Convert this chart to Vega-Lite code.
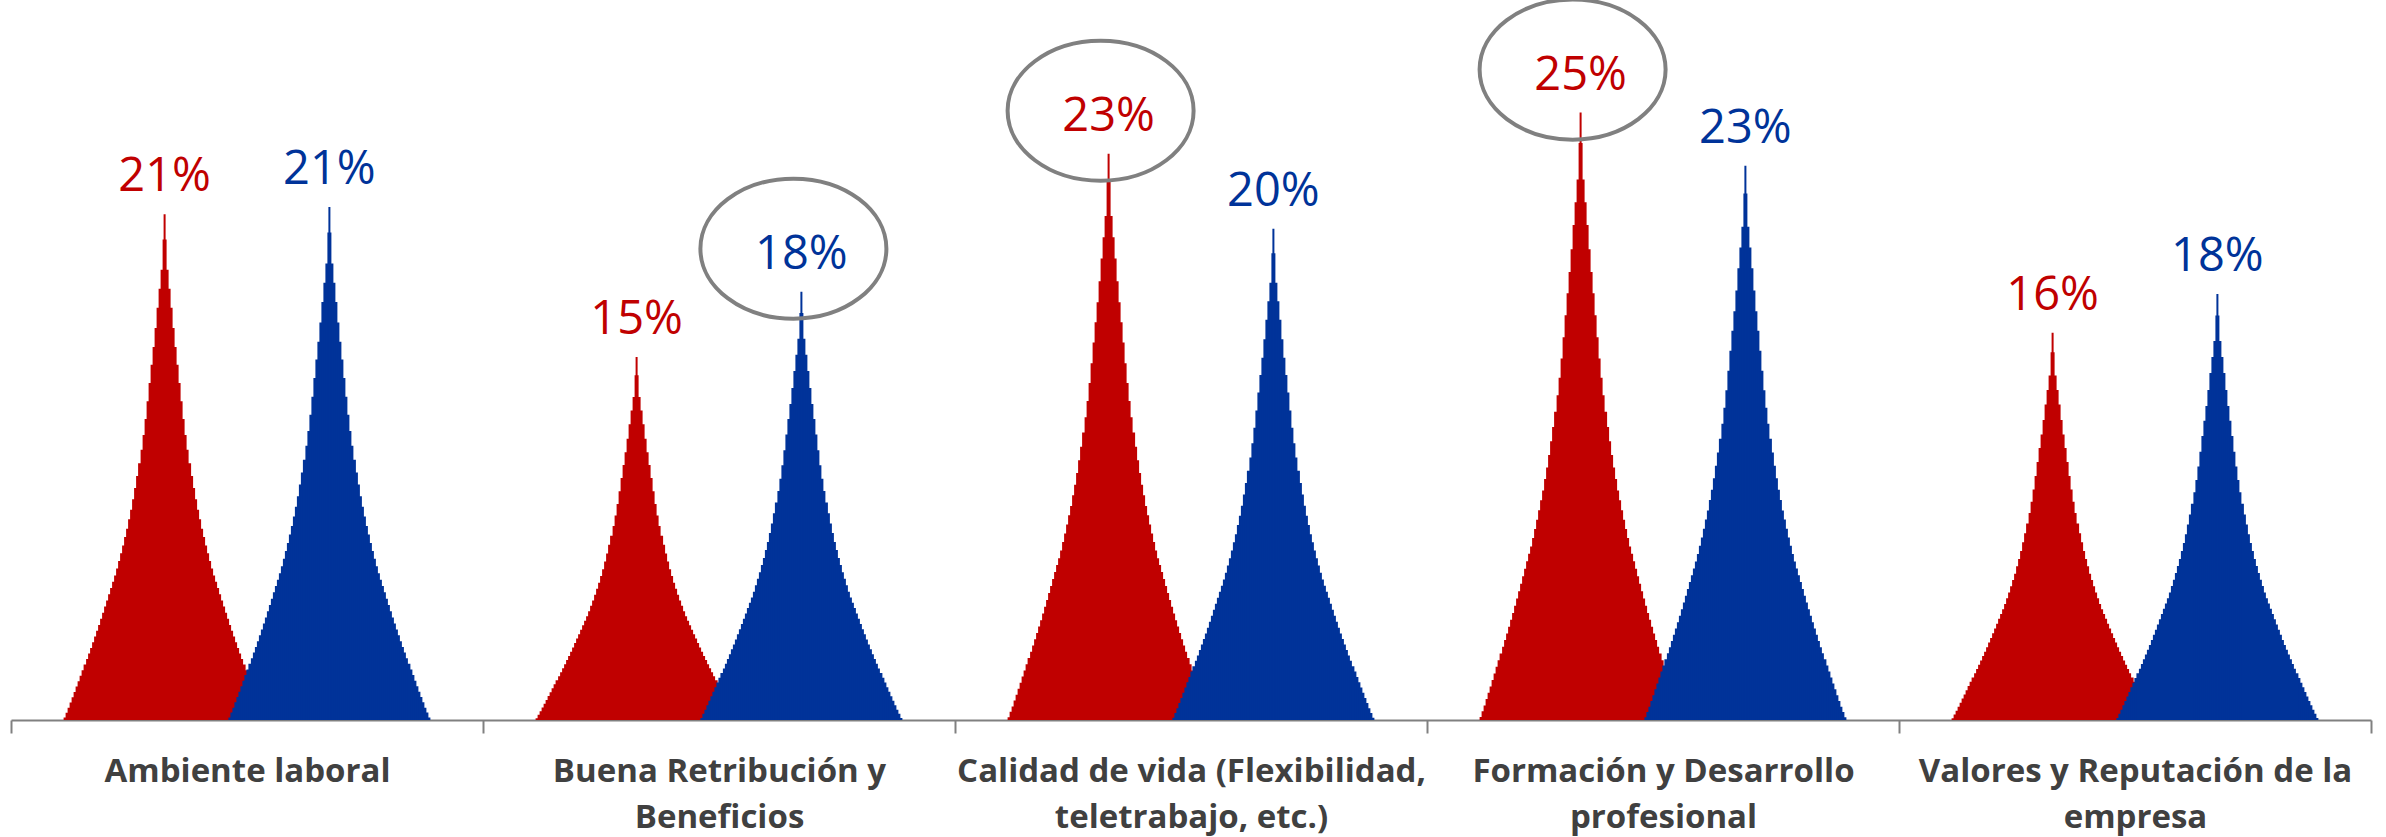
{
  "$schema": "https://vega.github.io/schema/vega-lite/v6.json",
  "width": 2360,
  "height": 720,
  "autosize": {"type": "none"},
  "padding": {"left": 11, "top": 0, "right": 15, "bottom": 117},
  "background": "white",
  "config": {"view": {"stroke": null}},
  "data": {
    "values": [
      {"cat": "Ambiente laboral", "s": "Serie 1", "v": 0.209, "hl": false},
      {"cat": "Ambiente laboral", "s": "Serie 2", "v": 0.212, "hl": false},
      {"cat": "Buena Retribución y Beneficios", "s": "Serie 1", "v": 0.150, "hl": false},
      {"cat": "Buena Retribución y Beneficios", "s": "Serie 2", "v": 0.177, "hl": true},
      {"cat": "Calidad de vida (Flexibilidad, teletrabajo, etc.)", "s": "Serie 1", "v": 0.234, "hl": true},
      {"cat": "Calidad de vida (Flexibilidad, teletrabajo, etc.)", "s": "Serie 2", "v": 0.203, "hl": false},
      {"cat": "Formación y Desarrollo profesional", "s": "Serie 1", "v": 0.251, "hl": true},
      {"cat": "Formación y Desarrollo profesional", "s": "Serie 2", "v": 0.229, "hl": false},
      {"cat": "Valores y Reputación de la empresa", "s": "Serie 1", "v": 0.160, "hl": false},
      {"cat": "Valores y Reputación de la empresa", "s": "Serie 2", "v": 0.176, "hl": false}
    ]
  },
  "encoding": {
    "x": {
      "field": "cat", "type": "nominal", "title": null,
      "scale": {"domain": ["Ambiente laboral", "Buena Retribución y Beneficios", "Calidad de vida (Flexibilidad, teletrabajo, etc.)", "Formación y Desarrollo profesional", "Valores y Reputación de la empresa"], "paddingInner": 0, "paddingOuter": 0},
      "axis": {
        "labelAngle": 0, "tickBand": "extent", "domainColor": "#808080", "domainWidth": 2, "tickColor": "#808080", "tickWidth": 2, "tickSize": 13,
        "labelFont": "Open Sans", "labelFontWeight": "bold", "labelFontSize": 33, "labelColor": "#404040", "labelPadding": 22, "labelLineHeight": 46, "labelLimit": 1000, "labelBaseline": "top",
        "labelExpr": "datum.value == 'Buena Retribución y Beneficios' ? ['Buena Retribución y', 'Beneficios'] : datum.value == 'Calidad de vida (Flexibilidad, teletrabajo, etc.)' ? ['Calidad de vida (Flexibilidad,', 'teletrabajo, etc.)'] : datum.value == 'Formación y Desarrollo profesional' ? ['Formación y Desarrollo', 'profesional'] : datum.value == 'Valores y Reputación de la empresa' ? ['Valores y Reputación de la', 'empresa'] : datum.value"
      }
    },
    "xOffset": {"field": "s", "type": "nominal", "scale": {"domain": ["Serie 1", "Serie 2"], "paddingInner": 0, "paddingOuter": 0.432}}
  },
  "layer": [
    {
      "transform": [{"filter": "datum.s == 'Serie 1'"}],
      "encoding": {"color": {"value": "#C00000"}},
      "resolve": {"scale": {"y": "independent"}},
      "layer": [
        {"mark": {"type": "bar", "width": 202}, "encoding": {"y": {"field": "v", "type": "quantitative", "axis": null, "scale": {"domain": [0, 61.9833], "nice": false}}}},
        {"mark": {"type": "bar", "width": 198}, "encoding": {"y": {"field": "v", "type": "quantitative", "axis": null, "scale": {"domain": [0, 20.6611], "nice": false}}}},
        {"mark": {"type": "bar", "width": 194}, "encoding": {"y": {"field": "v", "type": "quantitative", "axis": null, "scale": {"domain": [0, 12.3967], "nice": false}}}},
        {"mark": {"type": "bar", "width": 190}, "encoding": {"y": {"field": "v", "type": "quantitative", "axis": null, "scale": {"domain": [0, 8.64884], "nice": false}}}},
        {"mark": {"type": "bar", "width": 186}, "encoding": {"y": {"field": "v", "type": "quantitative", "axis": null, "scale": {"domain": [0, 6.64107], "nice": false}}}},
        {"mark": {"type": "bar", "width": 182}, "encoding": {"y": {"field": "v", "type": "quantitative", "axis": null, "scale": {"domain": [0, 5.38011], "nice": false}}}},
        {"mark": {"type": "bar", "width": 178}, "encoding": {"y": {"field": "v", "type": "quantitative", "axis": null, "scale": {"domain": [0, 4.50788], "nice": false}}}},
        {"mark": {"type": "bar", "width": 174}, "encoding": {"y": {"field": "v", "type": "quantitative", "axis": null, "scale": {"domain": [0, 3.87901], "nice": false}}}},
        {"mark": {"type": "bar", "width": 170}, "encoding": {"y": {"field": "v", "type": "quantitative", "axis": null, "scale": {"domain": [0, 3.40023], "nice": false}}}},
        {"mark": {"type": "bar", "width": 166}, "encoding": {"y": {"field": "v", "type": "quantitative", "axis": null, "scale": {"domain": [0, 3.02051], "nice": false}}}},
        {"mark": {"type": "bar", "width": 162}, "encoding": {"y": {"field": "v", "type": "quantitative", "axis": null, "scale": {"domain": [0, 2.71708], "nice": false}}}},
        {"mark": {"type": "bar", "width": 157}, "encoding": {"y": {"field": "v", "type": "quantitative", "axis": null, "scale": {"domain": [0, 2.46905], "nice": false}}}},
        {"mark": {"type": "bar", "width": 153}, "encoding": {"y": {"field": "v", "type": "quantitative", "axis": null, "scale": {"domain": [0, 2.26251], "nice": false}}}},
        {"mark": {"type": "bar", "width": 149}, "encoding": {"y": {"field": "v", "type": "quantitative", "axis": null, "scale": {"domain": [0, 2.08786], "nice": false}}}},
        {"mark": {"type": "bar", "width": 145}, "encoding": {"y": {"field": "v", "type": "quantitative", "axis": null, "scale": {"domain": [0, 1.93572], "nice": false}}}},
        {"mark": {"type": "bar", "width": 141}, "encoding": {"y": {"field": "v", "type": "quantitative", "axis": null, "scale": {"domain": [0, 1.80315], "nice": false}}}},
        {"mark": {"type": "bar", "width": 137}, "encoding": {"y": {"field": "v", "type": "quantitative", "axis": null, "scale": {"domain": [0, 1.68758], "nice": false}}}},
        {"mark": {"type": "bar", "width": 133}, "encoding": {"y": {"field": "v", "type": "quantitative", "axis": null, "scale": {"domain": [0, 1.58255], "nice": false}}}},
        {"mark": {"type": "bar", "width": 129}, "encoding": {"y": {"field": "v", "type": "quantitative", "axis": null, "scale": {"domain": [0, 1.4876], "nice": false}}}},
        {"mark": {"type": "bar", "width": 125}, "encoding": {"y": {"field": "v", "type": "quantitative", "axis": null, "scale": {"domain": [0, 1.4034], "nice": false}}}},
        {"mark": {"type": "bar", "width": 121}, "encoding": {"y": {"field": "v", "type": "quantitative", "axis": null, "scale": {"domain": [0, 1.32703], "nice": false}}}},
        {"mark": {"type": "bar", "width": 117}, "encoding": {"y": {"field": "v", "type": "quantitative", "axis": null, "scale": {"domain": [0, 1.25801], "nice": false}}}},
        {"mark": {"type": "bar", "width": 113}, "encoding": {"y": {"field": "v", "type": "quantitative", "axis": null, "scale": {"domain": [0, 1.19582], "nice": false}}}},
        {"mark": {"type": "bar", "width": 109}, "encoding": {"y": {"field": "v", "type": "quantitative", "axis": null, "scale": {"domain": [0, 1.13905], "nice": false}}}},
        {"mark": {"type": "bar", "width": 105}, "encoding": {"y": {"field": "v", "type": "quantitative", "axis": null, "scale": {"domain": [0, 1.08783], "nice": false}}}},
        {"mark": {"type": "bar", "width": 101}, "encoding": {"y": {"field": "v", "type": "quantitative", "axis": null, "scale": {"domain": [0, 1.04101], "nice": false}}}},
        {"mark": {"type": "bar", "width": 97}, "encoding": {"y": {"field": "v", "type": "quantitative", "axis": null, "scale": {"domain": [0, 0.99339], "nice": false}}}},
        {"mark": {"type": "bar", "width": 93}, "encoding": {"y": {"field": "v", "type": "quantitative", "axis": null, "scale": {"domain": [0, 0.94601], "nice": false}}}},
        {"mark": {"type": "bar", "width": 89}, "encoding": {"y": {"field": "v", "type": "quantitative", "axis": null, "scale": {"domain": [0, 0.90294], "nice": false}}}},
        {"mark": {"type": "bar", "width": 85}, "encoding": {"y": {"field": "v", "type": "quantitative", "axis": null, "scale": {"domain": [0, 0.86188], "nice": false}}}},
        {"mark": {"type": "bar", "width": 81}, "encoding": {"y": {"field": "v", "type": "quantitative", "axis": null, "scale": {"domain": [0, 0.82279], "nice": false}}}},
        {"mark": {"type": "bar", "width": 77}, "encoding": {"y": {"field": "v", "type": "quantitative", "axis": null, "scale": {"domain": [0, 0.78709], "nice": false}}}},
        {"mark": {"type": "bar", "width": 73}, "encoding": {"y": {"field": "v", "type": "quantitative", "axis": null, "scale": {"domain": [0, 0.7498], "nice": false}}}},
        {"mark": {"type": "bar", "width": 69}, "encoding": {"y": {"field": "v", "type": "quantitative", "axis": null, "scale": {"domain": [0, 0.71588], "nice": false}}}},
        {"mark": {"type": "bar", "width": 65}, "encoding": {"y": {"field": "v", "type": "quantitative", "axis": null, "scale": {"domain": [0, 0.68192], "nice": false}}}},
        {"mark": {"type": "bar", "width": 61}, "encoding": {"y": {"field": "v", "type": "quantitative", "axis": null, "scale": {"domain": [0, 0.64847], "nice": false}}}},
        {"mark": {"type": "bar", "width": 57}, "encoding": {"y": {"field": "v", "type": "quantitative", "axis": null, "scale": {"domain": [0, 0.61662], "nice": false}}}},
        {"mark": {"type": "bar", "width": 53}, "encoding": {"y": {"field": "v", "type": "quantitative", "axis": null, "scale": {"domain": [0, 0.58625], "nice": false}}}},
        {"mark": {"type": "bar", "width": 48}, "encoding": {"y": {"field": "v", "type": "quantitative", "axis": null, "scale": {"domain": [0, 0.55663], "nice": false}}}},
        {"mark": {"type": "bar", "width": 44}, "encoding": {"y": {"field": "v", "type": "quantitative", "axis": null, "scale": {"domain": [0, 0.52798], "nice": false}}}},
        {"mark": {"type": "bar", "width": 40}, "encoding": {"y": {"field": "v", "type": "quantitative", "axis": null, "scale": {"domain": [0, 0.50003], "nice": false}}}},
        {"mark": {"type": "bar", "width": 36}, "encoding": {"y": {"field": "v", "type": "quantitative", "axis": null, "scale": {"domain": [0, 0.47225], "nice": false}}}},
        {"mark": {"type": "bar", "width": 32}, "encoding": {"y": {"field": "v", "type": "quantitative", "axis": null, "scale": {"domain": [0, 0.44639], "nice": false}}}},
        {"mark": {"type": "bar", "width": 28}, "encoding": {"y": {"field": "v", "type": "quantitative", "axis": null, "scale": {"domain": [0, 0.42352], "nice": false}}}},
        {"mark": {"type": "bar", "width": 24}, "encoding": {"y": {"field": "v", "type": "quantitative", "axis": null, "scale": {"domain": [0, 0.40342], "nice": false}}}},
        {"mark": {"type": "bar", "width": 20}, "encoding": {"y": {"field": "v", "type": "quantitative", "axis": null, "scale": {"domain": [0, 0.3839], "nice": false}}}},
        {"mark": {"type": "bar", "width": 16}, "encoding": {"y": {"field": "v", "type": "quantitative", "axis": null, "scale": {"domain": [0, 0.36506], "nice": false}}}},
        {"mark": {"type": "bar", "width": 12}, "encoding": {"y": {"field": "v", "type": "quantitative", "axis": null, "scale": {"domain": [0, 0.349], "nice": false}}}},
        {"mark": {"type": "bar", "width": 8}, "encoding": {"y": {"field": "v", "type": "quantitative", "axis": null, "scale": {"domain": [0, 0.33429], "nice": false}}}},
        {"mark": {"type": "bar", "width": 4}, "encoding": {"y": {"field": "v", "type": "quantitative", "axis": null, "scale": {"domain": [0, 0.31318], "nice": false}}}},
        {"mark": {"type": "bar", "width": 2}, "encoding": {"y": {"field": "v", "type": "quantitative", "axis": null, "scale": {"domain": [0, 0.29752], "nice": false}}}}
      ]
    },
    {
      "transform": [{"filter": "datum.s == 'Serie 2'"}],
      "encoding": {"color": {"value": "#003399"}},
      "resolve": {"scale": {"y": "independent"}},
      "layer": [
        {"mark": {"type": "bar", "width": 202}, "encoding": {"y": {"field": "v", "type": "quantitative", "axis": null, "scale": {"domain": [0, 61.9833], "nice": false}}}},
        {"mark": {"type": "bar", "width": 198}, "encoding": {"y": {"field": "v", "type": "quantitative", "axis": null, "scale": {"domain": [0, 20.6611], "nice": false}}}},
        {"mark": {"type": "bar", "width": 194}, "encoding": {"y": {"field": "v", "type": "quantitative", "axis": null, "scale": {"domain": [0, 12.3967], "nice": false}}}},
        {"mark": {"type": "bar", "width": 190}, "encoding": {"y": {"field": "v", "type": "quantitative", "axis": null, "scale": {"domain": [0, 8.64884], "nice": false}}}},
        {"mark": {"type": "bar", "width": 186}, "encoding": {"y": {"field": "v", "type": "quantitative", "axis": null, "scale": {"domain": [0, 6.64107], "nice": false}}}},
        {"mark": {"type": "bar", "width": 182}, "encoding": {"y": {"field": "v", "type": "quantitative", "axis": null, "scale": {"domain": [0, 5.38011], "nice": false}}}},
        {"mark": {"type": "bar", "width": 178}, "encoding": {"y": {"field": "v", "type": "quantitative", "axis": null, "scale": {"domain": [0, 4.50788], "nice": false}}}},
        {"mark": {"type": "bar", "width": 174}, "encoding": {"y": {"field": "v", "type": "quantitative", "axis": null, "scale": {"domain": [0, 3.87901], "nice": false}}}},
        {"mark": {"type": "bar", "width": 170}, "encoding": {"y": {"field": "v", "type": "quantitative", "axis": null, "scale": {"domain": [0, 3.40023], "nice": false}}}},
        {"mark": {"type": "bar", "width": 166}, "encoding": {"y": {"field": "v", "type": "quantitative", "axis": null, "scale": {"domain": [0, 3.02051], "nice": false}}}},
        {"mark": {"type": "bar", "width": 162}, "encoding": {"y": {"field": "v", "type": "quantitative", "axis": null, "scale": {"domain": [0, 2.71708], "nice": false}}}},
        {"mark": {"type": "bar", "width": 157}, "encoding": {"y": {"field": "v", "type": "quantitative", "axis": null, "scale": {"domain": [0, 2.46905], "nice": false}}}},
        {"mark": {"type": "bar", "width": 153}, "encoding": {"y": {"field": "v", "type": "quantitative", "axis": null, "scale": {"domain": [0, 2.26251], "nice": false}}}},
        {"mark": {"type": "bar", "width": 149}, "encoding": {"y": {"field": "v", "type": "quantitative", "axis": null, "scale": {"domain": [0, 2.08786], "nice": false}}}},
        {"mark": {"type": "bar", "width": 145}, "encoding": {"y": {"field": "v", "type": "quantitative", "axis": null, "scale": {"domain": [0, 1.93572], "nice": false}}}},
        {"mark": {"type": "bar", "width": 141}, "encoding": {"y": {"field": "v", "type": "quantitative", "axis": null, "scale": {"domain": [0, 1.80315], "nice": false}}}},
        {"mark": {"type": "bar", "width": 137}, "encoding": {"y": {"field": "v", "type": "quantitative", "axis": null, "scale": {"domain": [0, 1.68758], "nice": false}}}},
        {"mark": {"type": "bar", "width": 133}, "encoding": {"y": {"field": "v", "type": "quantitative", "axis": null, "scale": {"domain": [0, 1.58255], "nice": false}}}},
        {"mark": {"type": "bar", "width": 129}, "encoding": {"y": {"field": "v", "type": "quantitative", "axis": null, "scale": {"domain": [0, 1.4876], "nice": false}}}},
        {"mark": {"type": "bar", "width": 125}, "encoding": {"y": {"field": "v", "type": "quantitative", "axis": null, "scale": {"domain": [0, 1.4034], "nice": false}}}},
        {"mark": {"type": "bar", "width": 121}, "encoding": {"y": {"field": "v", "type": "quantitative", "axis": null, "scale": {"domain": [0, 1.32703], "nice": false}}}},
        {"mark": {"type": "bar", "width": 117}, "encoding": {"y": {"field": "v", "type": "quantitative", "axis": null, "scale": {"domain": [0, 1.25801], "nice": false}}}},
        {"mark": {"type": "bar", "width": 113}, "encoding": {"y": {"field": "v", "type": "quantitative", "axis": null, "scale": {"domain": [0, 1.19582], "nice": false}}}},
        {"mark": {"type": "bar", "width": 109}, "encoding": {"y": {"field": "v", "type": "quantitative", "axis": null, "scale": {"domain": [0, 1.13905], "nice": false}}}},
        {"mark": {"type": "bar", "width": 105}, "encoding": {"y": {"field": "v", "type": "quantitative", "axis": null, "scale": {"domain": [0, 1.08783], "nice": false}}}},
        {"mark": {"type": "bar", "width": 101}, "encoding": {"y": {"field": "v", "type": "quantitative", "axis": null, "scale": {"domain": [0, 1.04101], "nice": false}}}},
        {"mark": {"type": "bar", "width": 97}, "encoding": {"y": {"field": "v", "type": "quantitative", "axis": null, "scale": {"domain": [0, 0.99339], "nice": false}}}},
        {"mark": {"type": "bar", "width": 93}, "encoding": {"y": {"field": "v", "type": "quantitative", "axis": null, "scale": {"domain": [0, 0.94601], "nice": false}}}},
        {"mark": {"type": "bar", "width": 89}, "encoding": {"y": {"field": "v", "type": "quantitative", "axis": null, "scale": {"domain": [0, 0.90294], "nice": false}}}},
        {"mark": {"type": "bar", "width": 85}, "encoding": {"y": {"field": "v", "type": "quantitative", "axis": null, "scale": {"domain": [0, 0.86188], "nice": false}}}},
        {"mark": {"type": "bar", "width": 81}, "encoding": {"y": {"field": "v", "type": "quantitative", "axis": null, "scale": {"domain": [0, 0.82279], "nice": false}}}},
        {"mark": {"type": "bar", "width": 77}, "encoding": {"y": {"field": "v", "type": "quantitative", "axis": null, "scale": {"domain": [0, 0.78709], "nice": false}}}},
        {"mark": {"type": "bar", "width": 73}, "encoding": {"y": {"field": "v", "type": "quantitative", "axis": null, "scale": {"domain": [0, 0.7498], "nice": false}}}},
        {"mark": {"type": "bar", "width": 69}, "encoding": {"y": {"field": "v", "type": "quantitative", "axis": null, "scale": {"domain": [0, 0.71588], "nice": false}}}},
        {"mark": {"type": "bar", "width": 65}, "encoding": {"y": {"field": "v", "type": "quantitative", "axis": null, "scale": {"domain": [0, 0.68192], "nice": false}}}},
        {"mark": {"type": "bar", "width": 61}, "encoding": {"y": {"field": "v", "type": "quantitative", "axis": null, "scale": {"domain": [0, 0.64847], "nice": false}}}},
        {"mark": {"type": "bar", "width": 57}, "encoding": {"y": {"field": "v", "type": "quantitative", "axis": null, "scale": {"domain": [0, 0.61662], "nice": false}}}},
        {"mark": {"type": "bar", "width": 53}, "encoding": {"y": {"field": "v", "type": "quantitative", "axis": null, "scale": {"domain": [0, 0.58625], "nice": false}}}},
        {"mark": {"type": "bar", "width": 48}, "encoding": {"y": {"field": "v", "type": "quantitative", "axis": null, "scale": {"domain": [0, 0.55663], "nice": false}}}},
        {"mark": {"type": "bar", "width": 44}, "encoding": {"y": {"field": "v", "type": "quantitative", "axis": null, "scale": {"domain": [0, 0.52798], "nice": false}}}},
        {"mark": {"type": "bar", "width": 40}, "encoding": {"y": {"field": "v", "type": "quantitative", "axis": null, "scale": {"domain": [0, 0.50003], "nice": false}}}},
        {"mark": {"type": "bar", "width": 36}, "encoding": {"y": {"field": "v", "type": "quantitative", "axis": null, "scale": {"domain": [0, 0.47225], "nice": false}}}},
        {"mark": {"type": "bar", "width": 32}, "encoding": {"y": {"field": "v", "type": "quantitative", "axis": null, "scale": {"domain": [0, 0.44639], "nice": false}}}},
        {"mark": {"type": "bar", "width": 28}, "encoding": {"y": {"field": "v", "type": "quantitative", "axis": null, "scale": {"domain": [0, 0.42352], "nice": false}}}},
        {"mark": {"type": "bar", "width": 24}, "encoding": {"y": {"field": "v", "type": "quantitative", "axis": null, "scale": {"domain": [0, 0.40342], "nice": false}}}},
        {"mark": {"type": "bar", "width": 20}, "encoding": {"y": {"field": "v", "type": "quantitative", "axis": null, "scale": {"domain": [0, 0.3839], "nice": false}}}},
        {"mark": {"type": "bar", "width": 16}, "encoding": {"y": {"field": "v", "type": "quantitative", "axis": null, "scale": {"domain": [0, 0.36506], "nice": false}}}},
        {"mark": {"type": "bar", "width": 12}, "encoding": {"y": {"field": "v", "type": "quantitative", "axis": null, "scale": {"domain": [0, 0.349], "nice": false}}}},
        {"mark": {"type": "bar", "width": 8}, "encoding": {"y": {"field": "v", "type": "quantitative", "axis": null, "scale": {"domain": [0, 0.33429], "nice": false}}}},
        {"mark": {"type": "bar", "width": 4}, "encoding": {"y": {"field": "v", "type": "quantitative", "axis": null, "scale": {"domain": [0, 0.31318], "nice": false}}}},
        {"mark": {"type": "bar", "width": 2}, "encoding": {"y": {"field": "v", "type": "quantitative", "axis": null, "scale": {"domain": [0, 0.29752], "nice": false}}}}
      ]
    },
    {
      "mark": {"type": "text", "font": "Open Sans", "fontSize": 47, "baseline": "alphabetic", "align": "center", "dy": -23},
      "encoding": {
        "y": {"field": "v", "type": "quantitative", "axis": null, "scale": {"domain": [0, 0.29752], "nice": false}},
        "text": {"field": "v", "type": "quantitative", "format": ".0%"},
        "color": {"field": "s", "type": "nominal", "legend": null, "scale": {"domain": ["Serie 1", "Serie 2"], "range": ["#C00000", "#003399"]}}
      }
    },
    {
      "transform": [{"filter": "datum.hl"}],
      "mark": {"type": "point", "filled": false, "stroke": "#808080", "strokeWidth": 4, "opacity": 1, "size": 34596,
        "shape": "M 0.914 -0.462 C 0.914 -0.046 0.466 0.291 -0.086 0.291 C -0.638 0.291 -1.086 -0.046 -1.086 -0.462 C -1.086 -0.878 -0.638 -1.215 -0.086 -1.215 C 0.466 -1.215 0.914 -0.878 0.914 -0.462 Z"},
      "encoding": {
        "y": {"field": "v", "type": "quantitative", "axis": null, "scale": {"domain": [0, 0.29752], "nice": false}}
      }
    }
  ],
  "resolve": {"scale": {"y": "independent"}}
}
